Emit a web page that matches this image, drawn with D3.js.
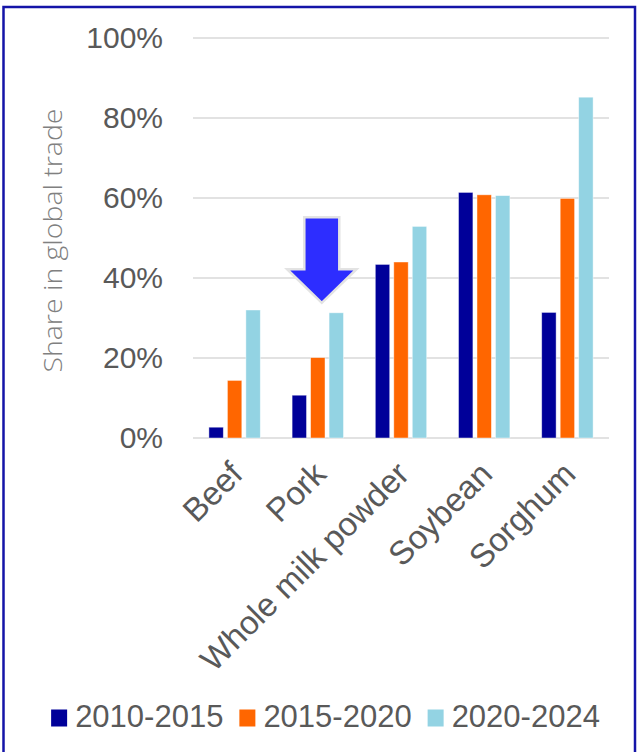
<!DOCTYPE html>
<html>
<head>
<meta charset="utf-8">
<script src="https://cdn.jsdelivr.net/npm/d3@7"></script>
<style>
  html, body { margin: 0; padding: 0; background: #fff; }
  svg { display: block; }
</style>
</head>
<body>
<svg id="chart" width="641" height="752"></svg>
<script>
// Share of global trade by product and period
const categories = ["Beef", "Pork", "Whole milk powder", "Soybean", "Sorghum"];
const periods = ["2010-2015", "2015-2020", "2020-2024"];
const share2010_2015 = [2.7, 10.7, 43.4, 61.4, 31.4];
const share2015_2020 = [14.4, 20.1, 44.0, 60.8, 59.9];
const share2020_2024 = [32.0, 31.3, 52.9, 60.6, 85.2];
const yTicks = [0, 20, 40, 60, 80, 100];
const yTickLabels = ["0%", "20%", "40%", "60%", "80%", "100%"];
const colors = ["#000099", "#FF6600", "#93D3E3"];
const highlighted = "Pork";

const seriesValues = [share2010_2015, share2015_2020, share2020_2024];

const svg = d3.select("#chart");
const W = 641, H = 752;
const plot = { left: 193, right: 609, top: 38, bottom: 438 };

svg.append("rect").attr("width", W).attr("height", H).attr("fill", "#fff");

// outer frame
svg.append("rect")
  .attr("x", 3.5).attr("y", 7)
  .attr("width", 631.5).attr("height", 770)
  .attr("fill", "none")
  .attr("stroke", "#1414A8")
  .attr("stroke-width", 2.5);

const y = d3.scaleLinear().domain([0, 100]).range([plot.bottom, plot.top]);
const x0 = d3.scaleBand().domain(categories)
  .range([plot.left, plot.right])
  .paddingInner(1 / 3).paddingOuter(1 / 6);
const x1 = d3.scaleBand().domain(periods)
  .range([0, x0.bandwidth()])
  .paddingInner(0.22).paddingOuter(0.11);

// gridlines
svg.append("g").selectAll("line").data(yTicks).join("line")
  .attr("x1", plot.left).attr("x2", plot.right)
  .attr("y1", d => y(d)).attr("y2", d => y(d))
  .attr("stroke", "#D9D9D9").attr("stroke-width", 1.5);

// y axis labels
const yAxis = d3.axisLeft(y).tickValues(yTicks)
  .tickFormat((d, i) => yTickLabels[i]).tickSize(0).tickPadding(30);
const gy = svg.append("g").attr("transform", `translate(${plot.left},0)`).call(yAxis);
gy.select(".domain").remove();
gy.selectAll("text")
  .attr("font-family", "'Liberation Sans', Arial, sans-serif")
  .attr("font-size", 30).attr("fill", "#595959");

// y axis title
svg.append("text")
  .attr("transform", `translate(62,240.5) rotate(-90)`)
  .attr("text-anchor", "middle")
  .attr("font-family", "'Open Sans', 'Segoe UI', sans-serif")
  .attr("font-weight", 300)
  .attr("font-size", 25)
  .attr("fill", "#808080")
  .attr("textLength", 264)
  .attr("lengthAdjust", "spacingAndGlyphs")
  .text("Share in global trade");

// bars
const rows = categories.map((c, i) => ({ c, vals: periods.map((p, k) => ({ p, k, v: seriesValues[k][i] })) }));
svg.append("g").selectAll("g").data(rows).join("g")
  .attr("transform", d => `translate(${x0(d.c)},0)`)
  .selectAll("rect").data(d => d.vals).join("rect")
  .attr("x", d => x1(d.p))
  .attr("width", x1.bandwidth())
  .attr("y", d => y(d.v))
  .attr("height", d => y(0) - y(d.v))
  .attr("fill", d => colors[d.k])
  .attr("stroke", "rgba(255,255,255,0.55)")
  .attr("stroke-width", 0.8);

// category labels
const xAxis = d3.axisBottom(x0).tickSize(0).tickPadding(0);
const gx = svg.append("g").attr("transform", `translate(0,${plot.bottom})`).call(xAxis);
gx.select(".domain").remove();
gx.selectAll("text")
  .attr("font-family", "'Liberation Sans', Arial, sans-serif")
  .attr("font-size", 33).attr("fill", "#595959")
  .attr("text-anchor", "end")
  .attr("dy", 0)
  .attr("y", 0)
  .attr("transform", "translate(10,38) rotate(-45)");

// arrow pointing at the highlighted product
const cx = x0(highlighted) + x0.bandwidth() / 2 + 4;
const tipY = y(33.8), headY = y(42.2), topY = y(55.2);
const shaftHalf = 17.5, headHalf = 34.7;
const arrowPts = [
  [cx - shaftHalf, topY], [cx + shaftHalf, topY], [cx + shaftHalf, headY],
  [cx + headHalf, headY], [cx, tipY], [cx - headHalf, headY], [cx - shaftHalf, headY]
];
svg.append("polygon")
  .attr("points", arrowPts.map(p => p.join(",")).join(" "))
  .attr("fill", "#2D2DFF")
  .attr("stroke", "#E3E3E3")
  .attr("stroke-width", 2.5)
  .attr("stroke-linejoin", "miter");

// legend
const legend = svg.append("g");
let lx = 0;
periods.forEach((p, k) => {
  const g = legend.append("g").attr("transform", `translate(${lx},0)`);
  g.append("rect").attr("x", 0).attr("y", -17).attr("width", 16).attr("height", 17)
    .attr("fill", colors[k]);
  const t = g.append("text").attr("x", 24).attr("y", 0)
    .attr("font-family", "'Liberation Sans', Arial, sans-serif")
    .attr("font-size", 31).attr("fill", "#595959").text(p);
  lx += 24 + t.node().getComputedTextLength() + 16;
});
const legendWidth = lx - 16;
legend.attr("transform", `translate(${325.5 - legendWidth / 2},726.5)`);
</script>
</body>
</html>
